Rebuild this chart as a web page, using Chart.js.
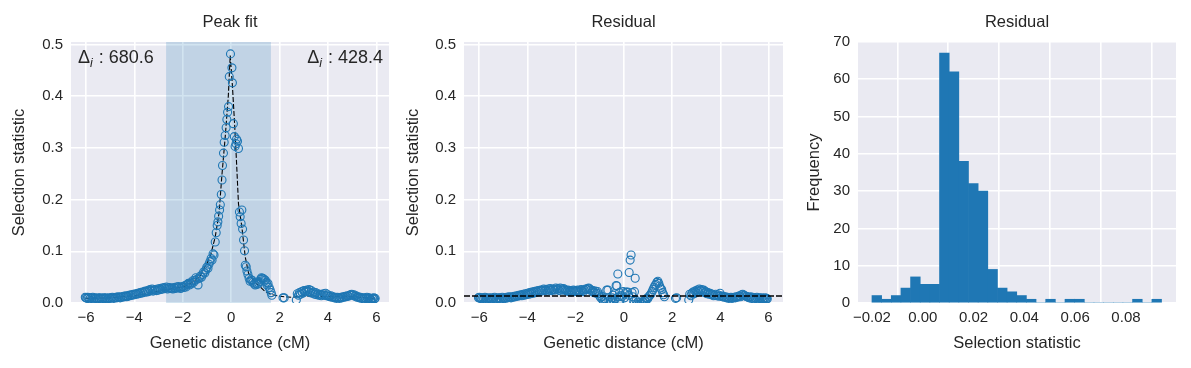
<!DOCTYPE html>
<html lang="en">
<head>
<meta charset="UTF-8">
<title>Peak fit / Residual</title>
<script src="https://cdn.jsdelivr.net/npm/chart.js"></script>
<style>
    body { margin: 0; background: #ffffff; }
    .panel { position: absolute; top: 0; }
    canvas { display: block; }
</style>
</head>
<body>
<div class="panel" style="left:0px"><canvas id="fitChart" width="397" height="368"></canvas></div>
<div class="panel" style="left:393px"><canvas id="residChart" width="398" height="368"></canvas></div>
<div class="panel" style="left:787px"><canvas id="histChart" width="404" height="368"></canvas></div>

<script>
// genetic distance (cM) of every site, shared by the peak and residual panels
const distX = [
    -6.03,-6.00,-5.96,-5.93,-5.89,-5.85,-5.81,-5.76,-5.72,-5.67,
    -5.63,-5.58,-5.54,-5.49,-5.45,-5.40,-5.36,-5.31,-5.27,-5.22,
    -5.18,-5.13,-5.09,-5.04,-5.00,-4.95,-4.91,-4.86,-4.82,-4.77,
    -4.73,-4.68,-4.64,-4.59,-4.55,-4.50,-4.45,-4.41,-4.36,-4.32,
    -4.27,-4.23,-4.18,-4.14,-4.09,-4.05,-4.00,-3.95,-3.91,-3.86,
    -3.82,-3.77,-3.73,-3.68,-3.64,-3.59,-3.55,-3.50,-3.45,-3.41,
    -3.36,-3.32,-3.27,-3.23,-3.18,-3.14,-3.09,-3.05,-3.00,-2.95,
    -2.91,-2.86,-2.82,-2.77,-2.73,-2.68,-2.64,-2.59,-2.55,-2.50,
    -2.45,-2.41,-2.36,-2.32,-2.27,-2.23,-2.18,-2.14,-2.09,-2.05,
    -2.00,-1.96,-1.91,-1.87,-1.82,-1.77,-1.73,-1.68,-1.64,-1.59,
    -1.55,-1.50,-1.46,-1.41,-1.37,-1.32,-1.28,-1.23,-1.18,-1.14,
    -1.09,-1.05,-1.01,-0.96,-0.92,-0.88,-0.83,-0.79,-0.75,-0.71,
    -0.66,-0.62,-0.58,-0.55,-0.52,-0.48,-0.45,-0.41,-0.38,-0.36,
    -0.32,-0.29,-0.25,-0.21,-0.18,-0.15,-0.11,-0.08,-0.03,0.03,
    0.05,0.09,0.13,0.16,0.20,0.22,0.26,0.30,0.34,0.37,
    0.41,0.44,0.47,0.51,0.55,0.58,0.62,0.65,0.69,0.74,
    0.78,0.82,0.86,0.90,0.95,0.99,1.03,1.08,1.13,1.17,
    1.21,1.25,1.29,1.33,1.37,1.41,1.45,1.48,1.52,1.57,
    1.61,1.65,1.68,2.14,2.19,2.69,2.73,2.78,2.82,2.86,
    2.91,2.95,3.00,3.04,3.09,3.13,3.18,3.22,3.27,3.31,
    3.36,3.40,3.45,3.49,3.54,3.58,3.63,3.67,3.72,3.76,
    3.81,3.85,3.90,3.94,3.99,4.03,4.08,4.12,4.17,4.21,
    4.26,4.30,4.35,4.39,4.44,4.48,4.53,4.57,4.62,4.66,
    4.71,4.75,4.80,4.84,4.89,4.93,4.98,5.02,5.07,5.11,
    5.16,5.20,5.25,5.29,5.34,5.38,5.43,5.47,5.52,5.56,
    5.61,5.65,5.69,5.72,5.76,5.79,5.83,5.86,5.89,5.92,
    5.95
];

// selection statistic (left panel)
const peakY = [
    0.011,0.010,0.009,0.011,0.010,0.008,0.010,0.009,0.011,0.009,
    0.010,0.009,0.008,0.010,0.009,0.010,0.008,0.009,0.010,0.009,
    0.010,0.008,0.009,0.010,0.009,0.010,0.011,0.009,0.010,0.011,
    0.010,0.012,0.011,0.010,0.012,0.011,0.013,0.012,0.014,0.012,
    0.013,0.015,0.014,0.016,0.015,0.017,0.016,0.018,0.017,0.019,
    0.018,0.020,0.019,0.021,0.020,0.022,0.023,0.021,0.024,0.022,
    0.026,0.024,0.027,0.023,0.025,0.026,0.024,0.027,0.025,0.028,
    0.026,0.029,0.027,0.030,0.028,0.031,0.027,0.029,0.030,0.028,
    0.029,0.027,0.030,0.028,0.031,0.029,0.032,0.030,0.028,0.031,
    0.032,0.030,0.034,0.031,0.036,0.038,0.035,0.039,0.037,0.043,
    0.040,0.044,0.049,0.046,0.035,0.048,0.052,0.050,0.055,0.060,
    0.058,0.064,0.069,0.067,0.075,0.080,0.086,0.083,0.095,0.093,
    0.118,0.136,0.150,0.157,0.168,0.180,0.190,0.210,0.238,0.266,
    0.290,0.311,0.324,0.339,0.355,0.369,0.380,0.438,0.482,0.455,
    0.426,0.347,0.322,0.303,0.308,0.317,0.313,0.299,0.176,0.167,
    0.154,0.180,0.143,0.122,0.101,0.073,0.070,0.062,0.055,0.048,
    0.042,0.045,0.044,0.040,0.037,0.035,0.038,0.036,0.038,0.041,
    0.046,0.049,0.048,0.047,0.045,0.044,0.040,0.035,0.038,0.030,
    0.025,0.020,0.015,0.010,0.010,0.006,0.018,0.015,0.020,0.017,
    0.022,0.019,0.024,0.021,0.023,0.025,0.022,0.026,0.020,0.024,
    0.019,0.021,0.017,0.020,0.016,0.018,0.015,0.017,0.014,0.016,
    0.018,0.015,0.019,0.014,0.016,0.013,0.012,0.014,0.011,0.012,
    0.010,0.011,0.009,0.011,0.010,0.009,0.011,0.010,0.012,0.011,
    0.013,0.012,0.014,0.013,0.015,0.016,0.017,0.015,0.016,0.013,
    0.014,0.011,0.012,0.010,0.011,0.009,0.010,0.008,0.010,0.009,
    0.011,0.008,0.010,0.009,0.007,0.006,0.009,0.008,0.010,0.008,
    0.009
];

// residual after removing the fitted peak (middle panel)
const residY = [
    0.010,0.011,0.009,0.010,0.008,0.010,0.009,0.011,0.010,0.008,
    0.009,0.010,0.009,0.008,0.010,0.009,0.011,0.008,0.009,0.010,
    0.009,0.010,0.008,0.011,0.009,0.010,0.009,0.011,0.010,0.012,
    0.011,0.010,0.012,0.011,0.013,0.012,0.014,0.013,0.015,0.014,
    0.016,0.014,0.017,0.015,0.018,0.016,0.019,0.017,0.020,0.018,
    0.021,0.019,0.022,0.020,0.023,0.021,0.024,0.022,0.025,0.023,
    0.025,0.027,0.024,0.026,0.023,0.027,0.025,0.028,0.024,0.026,
    0.027,0.025,0.029,0.026,0.028,0.024,0.029,0.027,0.025,0.028,
    0.026,0.024,0.023,0.025,0.022,0.024,0.021,0.023,0.025,0.022,
    0.024,0.022,0.025,0.021,0.023,0.026,0.024,0.022,0.025,0.027,
    0.026,0.028,0.029,0.027,0.025,0.022,0.024,0.020,0.023,0.019,
    0.022,0.018,0.014,0.010,0.012,0.006,0.003,0.008,0.001,0.025,
    0.025,0.004,-0.002,0.006,0.002,0.010,0.015,0.005,0.018,0.008,
    0.034,0.033,0.056,0.012,0.020,0.007,0.015,0.012,0.022,0.010,
    0.018,0.021,0.005,0.021,0.015,0.059,0.083,0.093,0.020,0.012,
    0.003,0.022,0.048,0.005,-0.003,0.002,-0.004,0.001,-0.002,0.000,
    0.003,0.002,0.006,0.004,0.009,0.008,0.012,0.015,0.018,0.022,
    0.026,0.030,0.034,0.036,0.040,0.042,0.038,0.033,0.029,0.026,
    0.020,0.016,0.012,0.009,0.010,0.006,0.017,0.014,0.019,0.021,
    0.018,0.023,0.020,0.025,0.022,0.027,0.024,0.026,0.022,0.025,
    0.020,0.022,0.018,0.020,0.017,0.019,0.016,0.017,0.014,0.015,
    0.017,0.014,0.016,0.013,0.019,0.014,0.012,0.013,0.011,0.012,
    0.010,0.011,0.009,0.010,0.011,0.009,0.010,0.011,0.010,0.012,
    0.011,0.013,0.014,0.012,0.016,0.017,0.015,0.014,0.013,0.012,
    0.011,0.010,0.012,0.009,0.011,0.008,0.010,0.009,0.011,0.008,
    0.010,0.009,0.008,0.010,0.007,0.009,0.008,0.010,0.007,0.009,
    0.008
];

// fitted peak curve (dashed line)
const fitX = [-6.03,-5.0,-4.0,-3.5,-3.0,-2.5,-2.0,-1.6,-1.3,-1.08,-0.87,-0.66,-0.5,-0.39,-0.25,-0.12,-0.04,
              0.05,0.14,0.21,0.30,0.44,0.58,0.72,0.99,1.41,1.68,2.0,2.5,3.0,4.0,5.0,5.95];
const fitY = [0.009,0.010,0.014,0.018,0.023,0.027,0.031,0.040,0.052,0.070,0.089,0.128,0.175,0.244,0.320,0.400,0.479,
              0.420,0.347,0.282,0.192,0.147,0.089,0.057,0.040,0.022,0.016,0.013,0.011,0.014,0.012,0.012,0.009];

// peak window and the two Delta_i values
const spanStart = -2.69;
const spanEnd = 1.64;
const deltaLeft = '680.6';
const deltaRight = '428.4';
const residBaseline = 0.0135;

// histogram of residuals
const histCenters = [-0.0181,-0.0143,-0.0105,-0.0067,-0.0029,0.0009,0.0047,0.0085,0.0123,0.0161,
                     0.0199,0.0237,0.0275,0.0313,0.0351,0.0389,0.0427,0.0465,0.0503,0.0541,
                     0.0579,0.0617,0.0655,0.0693,0.0731,0.0769,0.0807,0.0845,0.0883,0.0921];
const histCounts = [2,1,2,4,7,5,5,67,62,38,32,30,9,4,3,2,1,0,1,0,1,1,0,0,0,0,0,1,0,1];

// tick values and labels
const distTicks = [-6,-4,-2,0,2,4,6];
const distLabels = ['\u22126','\u22124','\u22122','0','2','4','6'];
const statTicks = [0,0.1,0.2,0.3,0.4,0.5];
const statLabels = ['0.0','0.1','0.2','0.3','0.4','0.5'];
const histXTicks = [-0.02,0,0.02,0.04,0.06,0.08];
const histXLabels = ['\u22120.02','0.00','0.02','0.04','0.06','0.08'];
const freqTicks = [0,10,20,30,40,50,60,70];
const freqLabels = ['0','10','20','30','40','50','60','70'];

const FONT = '"Liberation Sans", Arial, Helvetica, sans-serif';
const TEXT = '#262626';
const BLUE = '#1f77b4';
Chart.defaults.font.family = FONT;
Chart.defaults.color = TEXT;

function toPoints(xs, ys) {
    return xs.map((x, i) => ({ x: x, y: ys[i] }));
}

function axis(min, max, tickVals, tickText, title, isX, size) {
    return {
        type: 'linear',
        min: min,
        max: max,
        offset: false,
        afterBuildTicks: s => { s.ticks = tickVals.map(v => ({ value: v })); },
        afterFit: s => { if (isX) s.height = size; else s.width = size; },
        grid: { color: '#ffffff', lineWidth: 1.6, drawTicks: false },
        border: { display: false },
        ticks: {
            padding: isX ? 6 : 8,
            autoSkip: false,
            maxRotation: 0,
            font: { size: 15 },
            color: TEXT,
            callback: (v, i) => tickText[i]
        },
        title: { display: true, text: title, font: { size: 16.5 }, color: TEXT }
    };
}

const background = {
    id: 'background',
    beforeDraw(chart) {
        const a = chart.chartArea;
        chart.ctx.save();
        chart.ctx.fillStyle = '#eaeaf2';
        chart.ctx.fillRect(a.left, a.top, a.right - a.left, a.bottom - a.top);
        chart.ctx.restore();
    }
};

function panelTitle(text) {
    return {
        id: 'panelTitle',
        afterDraw(chart) {
            const a = chart.chartArea, ctx = chart.ctx;
            ctx.save();
            ctx.fillStyle = TEXT;
            ctx.font = '16.5px ' + FONT;
            ctx.textAlign = 'center';
            ctx.textBaseline = 'middle';
            ctx.fillText(text, (a.left + a.right) / 2, 22);
            ctx.restore();
        }
    };
}

// "Δi : value" with an italic subscript i
function drawDelta(ctx, x, y, value, alignRight) {
    const main = '18px ' + FONT, sub = 'italic 12.5px ' + FONT;
    ctx.font = main;
    const wD = ctx.measureText('\u0394').width;
    const wRest = ctx.measureText(' : ' + value).width;
    ctx.font = sub;
    const wI = ctx.measureText('i').width + 1;
    let start = alignRight ? x - (wD + wI + wRest) : x;
    ctx.textAlign = 'left';
    ctx.textBaseline = 'alphabetic';
    ctx.font = main;
    ctx.fillText('\u0394', start, y);
    ctx.font = sub;
    ctx.fillText('i', start + wD, y + 4);
    ctx.font = main;
    ctx.fillText(' : ' + value, start + wD + wI, y);
}

const peakWindow = {
    id: 'peakWindow',
    beforeDatasetsDraw(chart) {
        const a = chart.chartArea, xs = chart.scales.x, ctx = chart.ctx;
        const x0 = xs.getPixelForValue(spanStart), x1 = xs.getPixelForValue(spanEnd);
        ctx.save();
        ctx.fillStyle = 'rgba(31,119,180,0.2)';
        ctx.fillRect(x0, a.top, x1 - x0, a.bottom - a.top);
        ctx.restore();
    },
    afterDraw(chart) {
        const a = chart.chartArea, ctx = chart.ctx;
        ctx.save();
        ctx.fillStyle = TEXT;
        drawDelta(ctx, a.left + 7, a.top + 21, deltaLeft, false);
        drawDelta(ctx, a.right - 6, a.top + 21, deltaRight, true);
        ctx.restore();
    }
};

const baseline = {
    id: 'baseline',
    afterDatasetsDraw(chart) {
        const a = chart.chartArea, ctx = chart.ctx;
        const y = chart.scales.y.getPixelForValue(residBaseline);
        ctx.save();
        ctx.strokeStyle = '#000000';
        ctx.lineWidth = 1.3;
        ctx.setLineDash([6, 2]);
        ctx.beginPath();
        ctx.moveTo(a.left, y);
        ctx.lineTo(a.right, y);
        ctx.stroke();
        ctx.restore();
    }
};

const common = {
    responsive: false,
    devicePixelRatio: 1,
    animation: false,
    events: [],
    plugins: { legend: { display: false }, tooltip: { enabled: false }, title: { display: false } }
};

function scatterSet(ys) {
    return {
        type: 'scatter',
        data: toPoints(distX, ys),
        pointStyle: 'circle',
        pointRadius: 4,
        pointBorderWidth: 1.1,
        pointBorderColor: BLUE,
        pointBackgroundColor: 'rgba(0,0,0,0)',
        clip: 0
    };
}

new Chart(document.getElementById('fitChart'), {
    type: 'scatter',
    data: {
        datasets: [
            scatterSet(peakY),
            {
                data: toPoints(fitX, fitY),
                showLine: true,
                borderColor: '#000000',
                borderWidth: 1.1,
                borderDash: [5, 2],
                pointRadius: 0,
                clip: 0
            }
        ]
    },
    options: Object.assign({}, common, {
        layout: { padding: { left: 6, right: 8, top: 42, bottom: 11 } },
        scales: {
            x: axis(-6.62, 6.52, distTicks, distLabels, 'Genetic distance (cM)', true, 54),
            y: axis(0, 0.505, statTicks, statLabels, 'Selection statistic', false, 65)
        }
    }),
    plugins: [background, peakWindow, panelTitle('Peak fit')]
});

new Chart(document.getElementById('residChart'), {
    type: 'scatter',
    data: { datasets: [scatterSet(residY)] },
    options: Object.assign({}, common, {
        layout: { padding: { left: 7, right: 8, top: 42, bottom: 11 } },
        scales: {
            x: axis(-6.63, 6.6, distTicks, distLabels, 'Genetic distance (cM)', true, 54),
            y: axis(0, 0.505, statTicks, statLabels, 'Selection statistic', false, 64)
        }
    }),
    plugins: [background, baseline, panelTitle('Residual')]
});

new Chart(document.getElementById('histChart'), {
    type: 'bar',
    data: {
        datasets: [{
            data: toPoints(histCenters, histCounts),
            backgroundColor: BLUE,
            borderWidth: 0,
            barPercentage: 1,
            categoryPercentage: 1
        }]
    },
    options: Object.assign({}, common, {
        layout: { padding: { left: 14, right: 15, top: 42, bottom: 11 } },
        scales: {
            x: axis(-0.0255, 0.0997, histXTicks, histXLabels, 'Selection statistic', true, 54),
            y: axis(0, 70, freqTicks, freqLabels, 'Frequency', false, 57)
        }
    }),
    plugins: [background, panelTitle('Residual')]
});
</script>
</body>
</html>
